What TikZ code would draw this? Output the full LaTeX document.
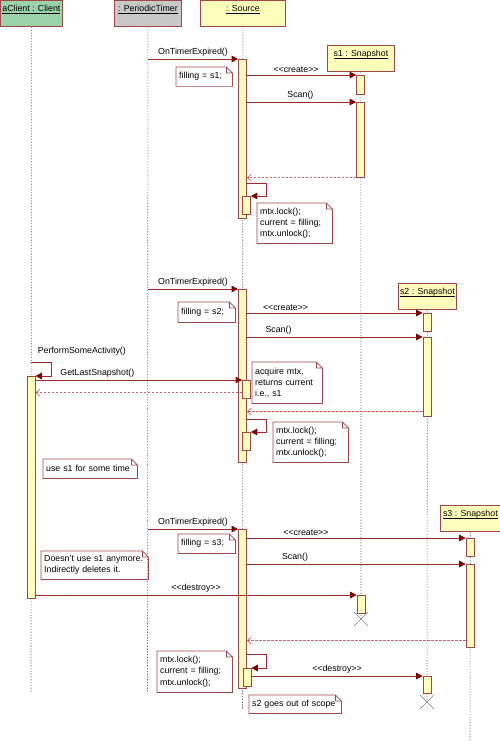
\documentclass[tikz,border=0pt]{standalone}
\usepackage{fontspec}
\setmainfont{Liberation Sans}
\usetikzlibrary{arrows.meta,positioning,shapes.misc}
\definecolor{brd}{HTML}{A0464B}
\definecolor{msgred}{HTML}{A0282D}
\definecolor{headred}{HTML}{800000}
\definecolor{retred}{HTML}{C86464}
\definecolor{actyellow}{HTML}{FFFFBB}
\definecolor{clgreen}{HTML}{9AD3A8}
\definecolor{tmgrey}{HTML}{C8C8C8}
\definecolor{lifegrey}{HTML}{606060}
\definecolor{xgrey}{HTML}{808080}
\newcommand\objname[1]{\underline{\smash{#1}}}

\begin{document}
\begin{tikzpicture}[
  x=1pt, y=-1pt,
  font=\fontsize{8.8}{11.3}\selectfont,
  obj/.style={draw=brd, line width=0.8pt, fill=actyellow, anchor=north west, inner xsep=0pt, inner ysep=3pt, text height=8pt, text depth=12pt, minimum height=26pt},
  life/.style={draw=lifegrey, line width=0.6pt, dash pattern=on 1.2pt off 1.6pt},
  act/.style={draw=brd, line width=0.7pt, fill=actyellow, minimum width=8pt, inner sep=0pt, anchor=north},
  msg/.style={draw=msgred, line width=0.8pt, -{Triangle[length=6.5pt,width=6.5pt,color=headred]}},
  ret/.style={draw=retred, line width=0.7pt, dash pattern=on 2.5pt off 1.5pt, -{Straight Barb[length=4pt,width=7pt]}},
  lbl/.style={above, inner sep=2pt, text=black},
  note/.style={anchor=north west, align=left, inner xsep=3pt, inner ysep=2pt,
    append after command={\pgfextra{\let\notebox\tikzlastnode
      \begin{pgfinterruptpath}
      \draw[brd, line width=0.7pt] (\notebox.north west) -- ([xshift=-6pt]\notebox.north east) -- ([yshift=-6pt]\notebox.north east) -- (\notebox.south east) -- (\notebox.south west) -- cycle
        ([xshift=-6pt]\notebox.north east) |- ([yshift=-6pt]\notebox.north east);
      \end{pgfinterruptpath}}}},
  killed/.style={draw=xgrey, cross out, minimum size=13pt, inner sep=0pt, line width=0.6pt}
]
\useasboundingbox (0,0) rectangle (500,741);

% objects
\node[obj, fill=clgreen, minimum width=62pt] (cl) at (0,0) {\objname{aClient : Client}};
\node[obj, fill=tmgrey, minimum width=67pt] (tm) at (114,0) {\objname{: PeriodicTimer}};
\node[obj, minimum width=85pt] (src) at (200,0) {\objname{: Source}};
\node[obj, minimum width=67pt] (s1) at (327,45) {\objname{s1 : Snapshot}};
\node[obj, minimum width=58pt] (s2) at (398,283) {\objname{s2 : Snapshot}};
\node[obj, minimum width=60pt] (s3) at (440,505) {\objname{s3 : Snapshot}};

% lifelines
\coordinate (clEnd) at (31,693);
\coordinate (tmEnd) at (147.5,693);
\coordinate (srcEnd) at (242.5,710);
\coordinate (s3End) at (470,741);
\node[killed] (s1x) at (361,619) {};
\node[killed] (s2x) at (427,702) {};
\draw[life] (cl.south) -- (clEnd);
\draw[life] (tm.south) -- (tmEnd);
\draw[life] (src.south) -- (srcEnd);
\draw[life] (s1.south) -- (s1x.center);
\draw[life] (s2.south) -- (s2x.center);
\draw[life] (s3.south) -- (s3End);

% activations
\node[act, minimum height=159pt] (srcA1) at (242.5,59) {};
\node[act, minimum height=18pt] (srcB1) at (246.5,196) {};
\node[act, minimum height=19pt] (s1A1) at (360.5,75) {};
\node[act, minimum height=75pt] (s1A2) at (360.5,102) {};
\node[act, minimum height=173pt] (srcA2) at (242.5,289) {};
\node[act, minimum height=18pt] (s2A1) at (427,313) {};
\node[act, minimum height=79pt] (s2A2) at (427,337) {};
\node[act, minimum height=222pt] (clA) at (31,376) {};
\node[act, minimum height=18pt] (srcB2) at (246.5,380) {};
\node[act, minimum height=18pt] (srcB3) at (246.5,432) {};
\node[act, minimum height=159pt] (srcA3) at (242.5,529) {};
\node[act, minimum height=18pt] (s3A1) at (470,538) {};
\node[act, minimum height=83pt] (s3A2) at (470,564) {};
\node[act, minimum height=18pt] (s1A3) at (361,595) {};
\node[act, minimum height=18pt] (srcB4) at (247,668) {};
\node[act, minimum height=17pt] (s2A3) at (427,676) {};

% first timer tick
\draw[msg] (tm |- srcA1.north) -- node[lbl]{OnTimerExpired()} (srcA1.north west);
\draw[msg] (srcA1.east |- s1A1.north) -- node[lbl, pos=0.45]{<{}<create>{}>} (s1A1.north west);
\draw[msg] (srcA1.east |- s1A2.north) -- node[lbl, pos=0.49]{Scan()} (s1A2.north west);
\draw[ret] (s1A2.south west) -- (srcA1.east |- s1A2.south);
\draw[msg] ([yshift=13pt]srcB1.north -| srcA1.east) -- ++(20,0) |- (srcB1.north east);
\node[note, text width=50pt, minimum height=19pt] (n1) at (176,67) {filling = s1;};
\node[note, text width=69pt, minimum height=40pt] (n2) at (257,203) {mtx.lock();\\current = filling;\\mtx.unlock();};

% second timer tick
\draw[msg] (tm |- srcA2.north) -- node[lbl]{OnTimerExpired()} (srcA2.north west);
\draw[msg] (srcA2.east |- s2A1.north) -- node[lbl, pos=0.22]{<{}<create>{}>} (s2A1.north west);
\draw[msg] (srcA2.east |- s2A2.north) -- node[lbl, pos=0.18]{Scan()} (s2A2.north west);
\draw[msg] ([yshift=14pt]clA.north -| cl) node[lbl, anchor=south west, xshift=4pt, yshift=4pt]{PerformSomeActivity()} -- ++(20,0) |- (clA.north east);
\draw[msg] (clA.east |- srcB2.north) -- node[lbl, pos=0.3]{GetLastSnapshot()} (srcB2.north west);
\draw[ret] ([yshift=6pt]srcB2.south west) coordinate (r2) -- (r2 -| clA.east);
\draw[ret] ([yshift=5pt]s2A2.south west) coordinate (r3) -- (r3 -| srcA2.east);
\draw[msg] ([yshift=13pt]srcB3.north -| srcA2.east) -- ++(20,0) |- (srcB3.north east);
\node[note, text width=51pt, minimum height=20pt] (n3) at (178,302) {filling = s2;};
\node[note, text width=64pt, minimum height=41pt] (n4) at (252,362) {acquire mtx,\\returns current\\i.e., s1};
\node[note, text width=69pt, minimum height=40pt] (n5) at (273,422) {mtx.lock();\\current = filling;\\mtx.unlock();};
\node[note, text width=88pt, minimum height=19pt] (n6) at (43,459) {use s1 for some time};

% third timer tick
\draw[msg] (tm |- srcA3.north) -- node[lbl]{OnTimerExpired()} (srcA3.north west);
\draw[msg] (srcA3.east |- s3A1.north) -- node[lbl, pos=0.27]{<{}<create>{}>} (s3A1.north west);
\draw[msg] (srcA3.east |- s3A2.north) -- node[lbl, pos=0.22]{Scan()} (s3A2.north west);
\draw[msg] (clA.east |- s1A3.north) -- node[lbl]{<{}<destroy>{}>} (s1A3.north west);
\draw[ret] ([yshift=7pt]s3A2.south west) coordinate (r4) -- (r4 -| srcA3.east);
\draw[msg] ([yshift=14pt]srcB4.north -| srcA3.east) -- ++(20,0) |- (srcB4.north east);
\draw[msg] (srcB4.east |- s2A3.north) -- node[lbl]{<{}<destroy>{}>} (s2A3.north west);
\node[note, text width=51pt, minimum height=19pt] (n7) at (178,534) {filling = s3;};
\node[note, text width=101pt, minimum height=28pt] (n8) at (41,551) {Doesn't use s1 anymore.\\Indirectly deletes it.};
\node[note, text width=69pt, minimum height=41pt] (n9) at (157,651) {mtx.lock();\\current = filling;\\mtx.unlock();};
\node[note, text width=86pt, minimum height=18pt] (n10) at (249,695) {s2 goes out of scope};
\end{tikzpicture}
\end{document}
